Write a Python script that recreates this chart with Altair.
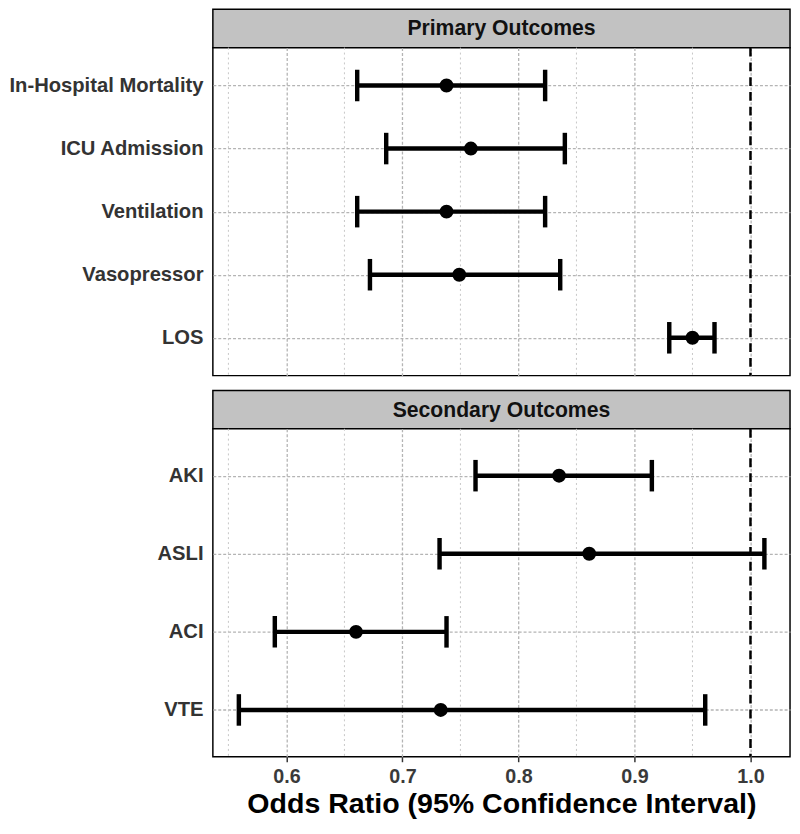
import altair as alt
import pandas as pd

# ---- data ----
primary_outcomes = ["In-Hospital Mortality", "ICU Admission", "Ventilation", "Vasopressor", "LOS"]
primary_or = [0.738, 0.759, 0.738, 0.749, 0.950]
primary_lower = [0.661, 0.686, 0.661, 0.672, 0.930]
primary_upper = [0.823, 0.840, 0.823, 0.836, 0.969]

secondary_outcomes = ["AKI", "ASLI", "ACI", "VTE"]
secondary_or = [0.835, 0.861, 0.660, 0.733]
secondary_lower = [0.763, 0.732, 0.590, 0.559]
secondary_upper = [0.915, 1.012, 0.738, 0.961]

panel_titles = ["Primary Outcomes", "Secondary Outcomes"]
major_breaks = [0.6, 0.7, 0.8, 0.9, 1.0]
minor_breaks = [0.55, 0.65, 0.75, 0.85, 0.95]
reference_value = 1.0
x_domain = [0.5366, 1.0341]
x_title = "Odds Ratio (95% Confidence Interval)"

FONT = "Liberation Sans"
PANEL_W = 586
PANEL_H = 333
STRIP_H = 39
GAP = 15

xscale = alt.Scale(domain=x_domain, nice=False, zero=False)


def x_axis(show):
    common = dict(values=major_breaks, grid=True, gridColor="#b4b4b4", gridDash=[3, 2],
                  gridWidth=1.3, domain=False)
    if show:
        return alt.Axis(format=".1f", title=x_title, labelFont=FONT, labelFontSize=20,
                        labelFontWeight="bold", labelColor="#3a3a3a", ticks=True, tickSize=5,
                        tickWidth=1.5, tickColor="#333333", labelPadding=5,
                        titleFont=FONT, titleFontSize=29, titleFontWeight="bold",
                        titleColor="black", titlePadding=4, **common)
    return alt.Axis(labels=False, ticks=False, title=None, **common)


def panel(names, est, lo, hi, show_x):
    df = pd.DataFrame({"outcome": names, "or": est, "lo": lo, "hi": hi})
    ax = x_axis(show_x)
    yenc = alt.Y("outcome:N", sort=names,
                 scale=alt.Scale(type="point", padding=0.6),
                 axis=alt.Axis(title=None, ticks=False, domain=False, labelFont=FONT,
                               labelFontSize=20.5, labelFontWeight="bold", labelColor="#333333",
                               labelPadding=10, labelLimit=400, grid=True,
                               gridColor="#b4b4b4", gridDash=[3, 2], gridWidth=1.3))
    minor = alt.Chart(pd.DataFrame({"v": minor_breaks})).mark_rule(
        color="#c6c6c6", strokeDash=[2, 3], strokeWidth=1
    ).encode(x=alt.X("v:Q", scale=xscale, axis=ax))
    ref = alt.Chart(pd.DataFrame({"r": [reference_value]})).mark_rule(
        color="black", strokeDash=[9, 6], strokeWidth=2.5
    ).encode(x=alt.X("r:Q", scale=xscale, axis=ax))
    base = alt.Chart(df)
    bars = base.mark_rule(color="black", strokeWidth=4.5).encode(
        x=alt.X("lo:Q", scale=xscale, axis=ax), x2="hi:Q", y=yenc)
    cap_lo = base.mark_tick(color="black", size=32, thickness=4.5, opacity=1).encode(
        x=alt.X("lo:Q", scale=xscale, axis=ax), y=yenc)
    cap_hi = base.mark_tick(color="black", size=32, thickness=4.5, opacity=1).encode(
        x=alt.X("hi:Q", scale=xscale, axis=ax), y=yenc)
    pts = base.mark_circle(color="black", size=200, opacity=1).encode(
        x=alt.X("or:Q", scale=xscale, axis=ax), y=yenc)
    return alt.layer(minor, ref, bars, cap_lo, cap_hi, pts).properties(
        width=PANEL_W, height=PANEL_H,
        view=alt.ViewBackground(fill="white", stroke="black", strokeWidth=1.5))


def strip(title, top_gap):
    d = alt.Chart(pd.DataFrame({"t": [title]}))
    box = d.mark_rect(fill="#c2c2c2", stroke="black", strokeWidth=1.5).encode(
        x=alt.value(0), x2=alt.value(PANEL_W),
        y=alt.value(top_gap), y2=alt.value(top_gap + STRIP_H))
    txt = d.mark_text(font=FONT, fontSize=21.5, fontWeight="bold", color="#111111",
                      baseline="middle").encode(
        text="t:N", x=alt.value(PANEL_W / 2), y=alt.value(top_gap + STRIP_H / 2 + 1))
    return alt.layer(box, txt).properties(
        width=PANEL_W, height=top_gap + STRIP_H,
        view=alt.ViewBackground(stroke="transparent"))


chart = alt.vconcat(
    strip(panel_titles[0], 0),
    panel(primary_outcomes, primary_or, primary_lower, primary_upper, False),
    strip(panel_titles[1], GAP),
    panel(secondary_outcomes, secondary_or, secondary_lower, secondary_upper, True),
    spacing=0, bounds="flush",
).properties(
    padding={"left": 0, "top": -7, "right": 0, "bottom": 0},
    background="white",
)

chart.save("out.html", embed_options={"renderer": "svg", "actions": False})
